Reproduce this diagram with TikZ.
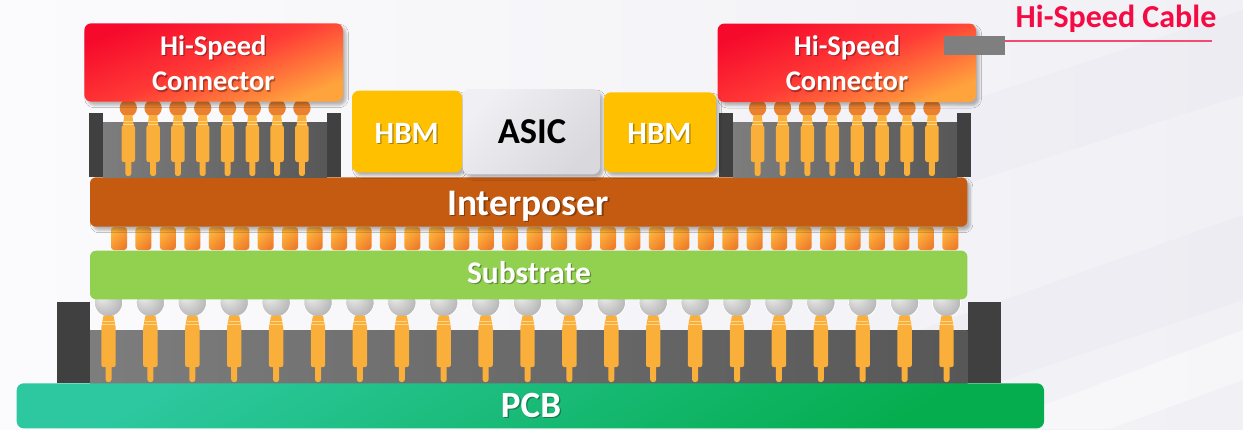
\documentclass[tikz,border=0pt]{standalone}
\usepackage{fontspec}
\setmainfont{Carlito}
\usetikzlibrary{shadows.blur}

% palette
\definecolor{bgL}{HTML}{FBFBFD}
\definecolor{bgR}{HTML}{F0F0F5}
\definecolor{bandgray}{HTML}{E6E6EE}
\definecolor{sockdark}{HTML}{404040}
\definecolor{sockgrayL}{HTML}{7D7D7D}
\definecolor{sockgrayR}{HTML}{575757}
\definecolor{pincol}{HTML}{FBAF3B}
\definecolor{pinlight}{HTML}{FFD58A}
\definecolor{smallball}{HTML}{E98130}
\definecolor{connA}{HTML}{F60A2C}
\definecolor{connM}{HTML}{FF3A36}
\definecolor{connB}{HTML}{FFA33D}
\definecolor{hbmcol}{HTML}{FFC000}
\definecolor{asicA}{HTML}{F0F0F4}
\definecolor{asicB}{HTML}{D8D8DD}
\definecolor{interpcol}{HTML}{C55A11}
\definecolor{bumpA}{HTML}{FFB53C}
\definecolor{bumpB}{HTML}{EE7D2C}
\definecolor{subcol}{HTML}{92D050}
\definecolor{pcbA}{HTML}{2DC8A0}
\definecolor{pcbB}{HTML}{05AD4E}
\definecolor{cablegray}{HTML}{7F7F7F}
\definecolor{cablered}{HTML}{F24A72}
\definecolor{labelred}{HTML}{F50A44}
\definecolor{ballA}{HTML}{F2F2F2}
\definecolor{ballM}{HTML}{D2D2D2}
\definecolor{ballB}{HTML}{A2A2A2}

\pgfdeclareradialshading{bigball}{\pgfpoint{-14bp}{14bp}}{%
  color(0bp)=(ballA); color(16bp)=(ballM); color(42bp)=(ballB); color(50bp)=(ballB)}

\tikzset{
  block/.style={rounded corners=6pt, inner sep=0pt, draw=none},
  softshadow/.style={blur shadow={shadow xshift=3pt, shadow yshift=-3.5pt,
      shadow blur radius=2.5pt, shadow opacity=28}},
  txt/.style={inner sep=0pt, anchor=base, text=white,
      font=\bfseries\fontsize{#1}{#1}\selectfont},
  connbox/.style={block, rounded corners=7pt, softshadow, top color=connA,
      bottom color=connB, middle color=connM, shading angle=22},
  smallpin/.pic={
    \fill[smallball] (0,0) circle (8.7);
    \fill[pincol] (-4,7) -- (4,7) -- (5.5,18.5) -- (-5.5,18.5) -- cycle;
    \fill[pincol, rounded corners=2pt] (-6.7,17.5) rectangle (6.7,54);
    \fill[pincol, rounded corners=2.5pt] (-3,52) rectangle (3,68);
    \draw[pinlight, line width=.6pt] (-4.6,13.5) -- (4.6,13.5) (-5.2,16.2) -- (5.2,16.2);
  },
  bigpin/.pic={
    \shade[shading=bigball, draw=white, line width=.8pt] (0,0) circle (14.2);
    \fill[pincol] (-5,13) -- (5,13) -- (7.2,25) -- (-7.2,25) -- cycle;
    \fill[pincol, rounded corners=2pt] (-7.2,24) rectangle (7.2,64.5);
    \fill[pincol, rounded corners=2.5pt] (-3,62) rectangle (3,79.5);
    \draw[pinlight, line width=.7pt] (-5.6,18.5) -- (5.6,18.5) (-6.4,22) -- (6.4,22);
  },
}

% white label with a soft dark copy behind it
\newcommand\castlabel[5]{%
  \node[#4, text=black, opacity=.33, xshift=1.3pt, yshift=-1.3pt] (#1s) at (#2,#3) {#5};
  \node[#4] (#1) at (#2,#3) {#5};}

\begin{document}
\begin{tikzpicture}[x=1pt,y=-1pt]
\useasboundingbox (0,0) rectangle (1243,429);

% backdrop with faint diagonal planes
\fill[left color=bgL, right color=bgR] (0,0) rectangle (1243,429);
\fill[bandgray, opacity=.35] (640,429) -- (1243,215) -- (1243,300) -- (860,429) -- cycle;
\fill[bandgray, opacity=.30] (760,170) -- (1243,10) -- (1243,95) -- (900,205) -- cycle;
\fill[white, opacity=.45] (980,429) -- (1243,330) -- (1243,380) -- (1110,429) -- cycle;

% ---------- board socket ----------
\fill[sockdark] (56.7,301.7) rectangle (90,383.3);
\fill[sockdark] (967.7,301.7) rectangle (1001,383.3);
\fill[left color=sockgrayL, right color=sockgrayR] (90,330) rectangle (967.7,383.3);
\foreach \i in {0,...,20}{
  \pgfmathsetmacro\px{108.5+41.9*\i}
  \pic at (\px,302.5) {bigpin};
}

% ---------- substrate ----------
\node[block, fill=subcol, minimum width=877.3pt, minimum height=48.6pt] (substrate) at (528.65,275) {};
\castlabel{subtext}{529}{283.5}{txt=31.5}{Substrate}

% ---------- micro bumps ----------
\foreach \i in {0,...,34}{
  \pgfmathsetmacro\bx{119+24.45*\i}
  \shade[top color=bumpA, bottom color=bumpB, shading angle=45, rounded corners=3pt]
    (\bx-8,227) rectangle (\bx+8,250);
}

% ---------- interposer ----------
\node[block, fill=interpcol, softshadow, minimum width=877.3pt, minimum height=49.4pt] (interposer) at (528.65,202) {};
\castlabel{interptext}{528}{215}{txt=37.5}{Interposer}

% ---------- connector sockets ----------
\fill[sockdark] (89,113) rectangle (103,177);
\fill[sockdark] (327,113) rectangle (341,177);
\fill[left color=sockgrayL, right color=sockgrayR] (103,122.5) rectangle (327,177);
\fill[sockdark] (718.5,113) rectangle (733,177);
\fill[sockdark] (957,113) rectangle (971,177);
\fill[left color=sockgrayL, right color=sockgrayR] (733,122.5) rectangle (957,177);
\foreach \i in {0,...,7}{
  \pgfmathsetmacro\lx{128.3+24.8*\i}
  \pgfmathsetmacro\rx{757.6+24.9*\i}
  \pic at (\lx,108) {smallpin};
  \pic at (\rx,108) {smallpin};
}

% ---------- hi-speed connectors ----------
\node[connbox, minimum width=258.7pt, minimum height=78.4pt] (connL) at (213.65,62.5) {};
\node[connbox, minimum width=258.5pt, minimum height=78.5pt] (connR) at (846.75,62.75) {};
\castlabel{connLa}{213.3}{55}{txt=28.5}{Hi-Speed}
\castlabel{connLb}{213.3}{90.7}{txt=28.5}{Connector}
\castlabel{connRa}{847}{55}{txt=28.5}{Hi-Speed}
\castlabel{connRb}{847}{90.7}{txt=28.5}{Connector}

% ---------- cable ----------
\node[fill=cablegray, inner sep=0pt, minimum width=61pt, minimum height=19.7pt] (cable) at (974.5,45.5) {};
\coordinate (cableend) at (1212,41);
\draw[cablered, line width=1.6pt] (cable.east |- cableend) -- (cableend);
\node[txt=32, text=labelred] (cablelabel) at (1116,27) {Hi-Speed Cable};

% ---------- ASIC and HBM ----------
\node[block, rounded corners=7pt, softshadow, fill=hbmcol, minimum width=110pt, minimum height=81.6pt] (hbmL) at (407,131.5) {};
\node[block, rounded corners=7pt, softshadow, top color=asicA, bottom color=asicB, shading angle=45,
      minimum width=137.3pt, minimum height=85.3pt] (asic) at (531.35,131.65) {};
\node[block, rounded corners=7pt, softshadow, fill=hbmcol, minimum width=112pt, minimum height=80pt] (hbmR) at (660,132.3) {};
\castlabel{hbmLtext}{406.7}{143.3}{txt=31}{HBM}
\castlabel{hbmRtext}{659.5}{143.3}{txt=31}{HBM}
\node[txt=36.5, text=black] (asictext) at (532,143.3) {ASIC};

% ---------- PCB ----------
\node[block, rounded corners=7pt, top color=pcbA, bottom color=pcbB, shading angle=30,
      minimum width=1027.3pt, minimum height=45pt] (pcb) at (530.35,405.8) {};
\castlabel{pcbtext}{531}{417.5}{txt=37}{PCB}
\end{tikzpicture}
\end{document}
